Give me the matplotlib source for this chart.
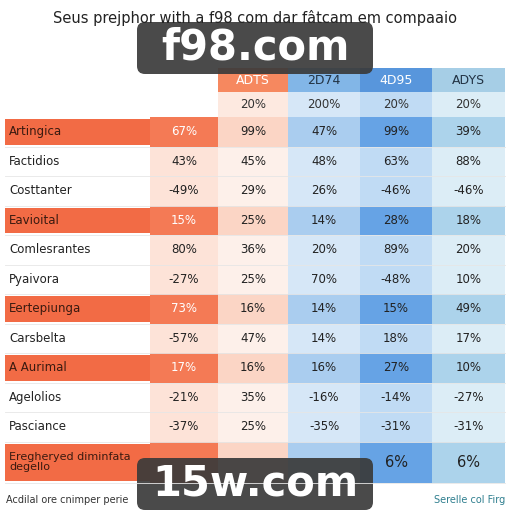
import matplotlib
matplotlib.use("Agg")
import matplotlib.pyplot as plt
from matplotlib.patches import Rectangle, FancyBboxPatch

title = "Seus prejphor with a f98 com dar fâtcam em compaaio"
headers = ["", "ADTS", "2D74", "4D95", "ADYS"]
subheaders = ["", "20%", "200%", "20%", "20%"]
rows = ["Artingica", "Factidios", "Costtanter", "Eavioital", "Comlesrantes", "Pyaivora",
        "Eertepiunga", "Carsbelta", "A Aurimal", "Agelolios", "Pasciance",
        "Eregheryed diminfata\ndegello"]
highlight = [True, False, False, True, False, False, True, False, True, False, False, True]
values = [
    ["67%", "99%", "47%", "99%", "39%"],
    ["43%", "45%", "48%", "63%", "88%"],
    ["-49%", "29%", "26%", "-46%", "-46%"],
    ["15%", "25%", "14%", "28%", "18%"],
    ["80%", "36%", "20%", "89%", "20%"],
    ["-27%", "25%", "70%", "-48%", "10%"],
    ["73%", "16%", "14%", "15%", "49%"],
    ["-57%", "47%", "14%", "18%", "17%"],
    ["17%", "16%", "16%", "27%", "10%"],
    ["-21%", "35%", "-16%", "-14%", "-27%"],
    ["-37%", "25%", "-35%", "-31%", "-31%"],
    ["", "", "", "6%", "6%"],
]

col_x = [150, 218, 288, 360, 432, 505]
col_bg = ["#fde3d8", "#fdf0ea", "#d6e7f7", "#c0dbf4", "#dcedf6"]
col_hi = ["#f47a55", "#fbd5c5", "#aacdef", "#66a3e5", "#acd3eb"]
head_bg = ["#ffffff", "#f6885f", "#82b6e7", "#5896dc", "#a6cee6"]
sub_bg = ["#ffffff", "#fde9e0", "#d6e7f7", "#c0dbf4", "#dcedf6"]

fig = plt.figure(figsize=(5.12, 5.12), dpi=100)
ax = fig.add_axes([0, 0, 1, 1])
ax.set_xlim(0, 512); ax.set_ylim(512, 0); ax.axis("off")

ax.text(255, 18, title, ha="center", va="center", fontsize=10.5, color="#222222")

row_top = 117
row_h = 29.5
for j in range(5):
    ax.add_patch(Rectangle((col_x[j], 68), col_x[j+1]-col_x[j], 24, color=head_bg[j], lw=0))
    ax.add_patch(Rectangle((col_x[j], 92), col_x[j+1]-col_x[j], 25, color=sub_bg[j], lw=0))
    ax.text((col_x[j]+col_x[j+1])/2, 80, headers[j], ha="center", va="center", fontsize=9,
            color="white" if j in (1, 3) else "#223344")
    ax.text((col_x[j]+col_x[j+1])/2, 105, subheaders[j], ha="center", va="center", fontsize=8.5, color="#333333")

for i, name in enumerate(rows):
    y0 = row_top + i*row_h
    last = i == len(rows)-1
    h = row_h + (12 if last else 0)
    hi = highlight[i]
    if hi:
        ax.add_patch(Rectangle((5, y0+2), 145, h-4, color="#f26b45", lw=0))
    for j in range(5):
        ax.add_patch(Rectangle((col_x[j], y0), col_x[j+1]-col_x[j], h,
                               color=col_hi[j] if hi else col_bg[j], lw=0))
        ax.text((col_x[j]+col_x[j+1])/2, y0+h/2, values[i][j], ha="center", va="center",
                fontsize=8.5 if not last else 10.5,
                color="white" if (hi and j == 0) else "#222222")
    ax.text(9, y0+h/2, name, ha="left", va="center", fontsize=8.5 if not last else 8,
            color="#3a1a10" if hi else "#222222", linespacing=1.0)
    ax.plot([5, 505], [y0+h, y0+h], color="#e6e6e6", lw=0.6)

ax.text(6, 500, "Acdilal ore cnimper perie", fontsize=7, color="#333333", va="center")
ax.text(505, 500, "Serelle col Firg", fontsize=7, color="#2f7f8f", va="center", ha="right")

for (cx, cy, w, h, s) in [(255, 48, 236, 52, "f98.com"), (255, 484, 236, 52, "15w.com")]:
    ax.add_patch(FancyBboxPatch((cx-w/2, cy-h/2), w, h, boxstyle="round,pad=0,rounding_size=8",
                                color="#3a3a3a", lw=0, alpha=0.92))
    ax.text(cx, cy, s, ha="center", va="center", fontsize=30, color="white", fontweight="bold")

fig.savefig("out.png", dpi=100)
